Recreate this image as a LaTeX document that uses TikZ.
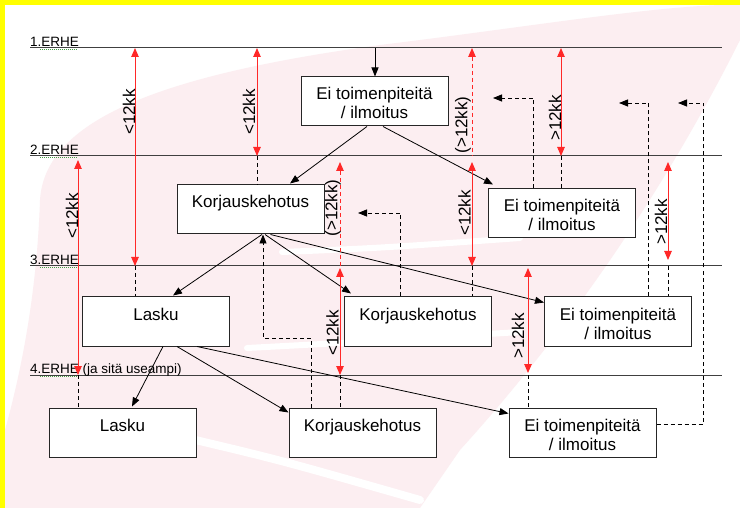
\documentclass[tikz,border=0pt]{standalone}
\usepackage{fontspec}
\setmainfont{Liberation Sans}
\usetikzlibrary{arrows.meta,calc}
\definecolor{wm}{RGB}{252,238,241}
\definecolor{ylw}{RGB}{255,255,0}
\definecolor{sqg}{RGB}{70,160,70}
\definecolor{rd}{RGB}{255,40,40}
\tikzset{
 box/.style={draw=black!85, line width=1pt, fill=white, inner sep=0pt, minimum width=147pt, minimum height=49pt},
 flow/.style={draw=black, line width=0.8pt, -{Triangle[length=9pt,width=7pt]}},
 back/.style={draw=black, line width=0.8pt, dash pattern=on 4pt off 3pt},
 backarr/.style={back, -{Triangle[length=9pt,width=7pt]}},
 span/.style={draw=rd, line width=0.9pt, {Triangle[length=9pt,width=7.5pt]}-{Triangle[length=9pt,width=7.5pt]}},
 spandash/.style={draw=rd, line width=0.9pt, dash pattern=on 4pt off 3pt, {Triangle[length=9pt,width=7.5pt]}-},
 lvl/.style={draw=black!75, line width=1pt},
 lvltext/.style={font=\fontsize{13.5}{15}\selectfont, anchor=base west, inner sep=0pt},
 squig/.style={draw=sqg, line width=1pt, dash pattern=on 1pt off 1pt},
 kk/.style={font=\fontsize{17}{19}\selectfont, rotate=90, inner sep=0pt},
}
\newcommand\bxt[1]{\parbox[c][49pt][t]{147pt}{\centering\fontsize{17}{19}\selectfont\vspace*{9.7pt}#1}}
\begin{document}
\begin{tikzpicture}[x=1pt,y=-1pt]
\useasboundingbox (0,0) rectangle (740,508);
\fill[white] (0,0) rectangle (740,508);
% watermark
\fill[wm] (5,508) -- (5,430) .. controls (30,340) and (38,260) .. (40,200) .. controls (45,120) and (160,75) .. (380,45) .. controls (520,28) and (640,8) .. (720,5) -- (740,5) -- (740,40) .. controls (660,200) and (560,340) .. (460,450) -- (420,508) -- cycle;
\draw[white, line width=6pt, line cap=round] (282,252) .. controls (380,248) .. (520,238);
\draw[white, line width=6pt, line cap=round] (247,348) .. controls (360,342) .. (520,332);
\draw[white, line width=8pt, line cap=round] (187,438) .. controls (280,460) .. (420,500);
% yellow frame
\fill[ylw] (0,0) rectangle (740,5);
\fill[ylw] (0,0) rectangle (5,508);
% level lines
\foreach \yy/\tx in {48/1.ERHE,156/2.ERHE,266/3.ERHE,375/{4.ERHE (ja sitä useampi)}}{
  \draw[lvl] (30,\yy) -- (722,\yy);
  \draw[squig] (40,\yy+1.8) -- (78,\yy+1.8);
  \node[lvltext] at (30,\yy-1.6) {\tx};
}
% boxes
\node[box] (EiA) at (374.5,101.5) {\bxt{\strut Ei toimenpiteitä\\\strut / ilmoitus}};
\node[box] (KorA) at (250.5,209.5) {\bxt{\strut Korjauskehotus}};
\node[box] (EiB) at (562,213.5) {\bxt{\strut Ei toimenpiteitä\\\strut / ilmoitus}};
\node[box] (LaskuB) at (156,321.5) {\bxt{\strut Lasku}};
\node[box] (KorB) at (418,321.5) {\bxt{\strut Korjauskehotus}};
\node[box] (EiC) at (618,321.5) {\bxt{\strut Ei toimenpiteitä\\\strut / ilmoitus}};
\node[box] (LaskuC) at (122.5,432.5) {\bxt{\strut Lasku}};
\node[box] (KorC) at (362.5,432.5) {\bxt{\strut Korjauskehotus}};
\node[box] (EiD) at (582.5,432.5) {\bxt{\strut Ei toimenpiteitä\\\strut / ilmoitus}};
% solid flow arrows
\coordinate (top0) at (375,48);
\draw[flow] (top0) -- (top0 |- EiA.north);
\draw[flow] ([xshift=-7.5pt]EiA.south) -- ([xshift=39.5pt,yshift=1pt]KorA.north);
\draw[flow] ([xshift=8.5pt]EiA.south) -- ([xshift=5pt,yshift=4pt]EiB.north west);
\draw[flow] ([xshift=11.5pt]KorA.south) -- ([xshift=17pt,yshift=1pt]LaskuB.north);
\draw[flow] ([xshift=14.5pt]KorA.south) -- ([xshift=7pt,yshift=3pt]KorB.north west);
\draw[flow] ([xshift=20pt]KorA.south) -- ([yshift=-6pt]EiC.north west);
\draw[flow] ([xshift=7pt]LaskuB.south) -- ([xshift=9.5pt,yshift=1pt]LaskuC.north);
\draw[flow] ([xshift=21pt]LaskuB.south) -- ([yshift=-5pt]KorC.north west);
\draw[flow] ([xshift=41pt]LaskuB.south) -- ([yshift=-6pt]EiD.north west);
% red spans
\coordinate (r1a) at (135,48);  \coordinate (r1b) at (135,266);
\coordinate (r2a) at (257,48);  \coordinate (r2b) at (257,156);
\coordinate (r3a) at (78,160);  \coordinate (r3b) at (78,375);
\coordinate (r4a) at (472,48);  \coordinate (r4b) at (472,156);
\coordinate (r5a) at (472,162); \coordinate (r5b) at (472,266);
\coordinate (r6a) at (340,162); \coordinate (r6b) at (340,266);
\coordinate (r7a) at (340,268); \coordinate (r7b) at (340,375);
\coordinate (r8a) at (561,48);  \coordinate (r8b) at (561,156);
\coordinate (r9a) at (668,162); \coordinate (r9b) at (668,260);
\coordinate (r10a) at (528,268); \coordinate (r10b) at (528,373);
\draw[span] (r1a) -- (r1b);
\draw[span] (r2a) -- (r2b);
\draw[span] (r3a) -- (r3b);
\draw[spandash] (r4a) -- (r4b);
\draw[span] (r5a) -- (r5b);
\draw[spandash] (r6a) -- (r6b);
\draw[span] (r7a) -- (r7b);
\draw[span] (r8a) -- (r8b);
\draw[span] (r9a) -- (r9b);
\draw[span] (r10a) -- (r10b);
\node[kk] (k1) at (129,112) {<12kk};
\node[kk] (k2) at (249,112) {<12kk};
\node[kk] (k3) at (72,216) {<12kk};
\node[kk] (k4) at (463,125) {(>12kk)};
\node[kk] (k5) at (464.5,213) {<12kk};
\node[kk] (k6) at (333,208) {(>12kk)};
\node[kk] (k7) at (332.5,333) {<12kk};
\node[kk] (k8) at (555,118) {>12kk};
\node[kk] (k9) at (661,222) {>12kk};
\node[kk] (k10) at (518,336) {>12kk};
% dashed links from level lines to boxes
\coordinate (d1) at (135,266);
\coordinate (d2) at (257,156);
\coordinate (d3) at (78,375);
\coordinate (d4) at (472,266);
\coordinate (d5) at (340,375);
\coordinate (d6) at (561,156);
\coordinate (d7) at (668,266);
\coordinate (d8) at (528,375);
\draw[back] (d1) -- (d1 |- LaskuB.north);
\draw[back] (d2) -- (d2 |- KorA.north);
\draw[back] (d3) -- (d3 |- LaskuC.north);
\draw[back] (d4) -- (d4 |- KorB.north);
\draw[back] (d5) -- (d5 |- KorC.north);
\draw[back] (d6) -- (d6 |- EiB.north);
\draw[back] (d7) -- (d7 |- EiC.north);
\draw[back] (d8) -- (d8 |- EiD.north);
% dashed return arrows
\coordinate (t1) at (358,213);
\coordinate (t2) at (493,98);
\coordinate (t3) at (619,103);
\coordinate (t4) at (678,103);
\coordinate (c1) at (263,338);
\coordinate (c2) at (703,424);
\draw[backarr] ([xshift=-18pt]KorB.north) |- (t1);
\draw[backarr] ([xshift=-51.5pt]KorC.north) |- (c1) -- ([xshift=12.5pt]KorA.south);
\draw[backarr] ([xshift=-29pt]EiB.north) |- (t2);
\draw[backarr] ([xshift=30pt]EiC.north) |- (t3);
\draw[backarr] ([yshift=8.5pt]EiD.east) -- (c2) |- (t4);
\end{tikzpicture}
\end{document}
